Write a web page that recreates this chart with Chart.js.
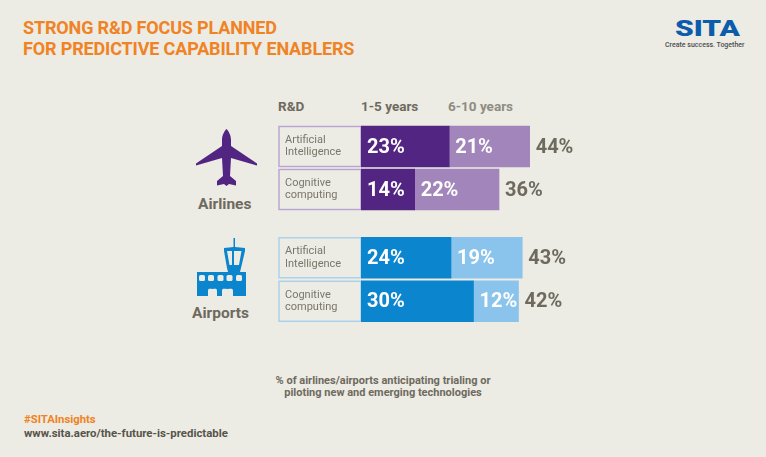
<!DOCTYPE html>
<html>
<head>
<meta charset="utf-8">
<script src="https://cdn.jsdelivr.net/npm/chart.js@4"></script>
<style>
  html, body { margin: 0; padding: 0; background: #ecebe4; }
  body { width: 766px; height: 457px; position: relative; overflow: hidden; font-family: Roboto, sans-serif; }
  .t { position: absolute; white-space: nowrap; font-weight: 700; color: #6e6a5e; }
  canvas { position: absolute; }
  svg { position: absolute; left: 0; top: 0; }
</style>
</head>
<body>
<div class="t" style="left:23px;top:17px;font-size:18px;line-height:21px;color:#f08323;letter-spacing:-0.15px;">STRONG R&amp;D FOCUS PLANNED<br>FOR PREDICTIVE CAPABILITY ENABLERS</div>
<div class="t" style="left:278px;top:98px;font-size:13.5px;">R&amp;D</div>
<div class="t" style="left:361px;top:98px;font-size:13.5px;">1-5 years</div>
<div class="t" style="left:448px;top:98px;font-size:13.5px;color:#8f8c81;">6-10 years</div>
<div class="t" style="left:198px;top:195px;font-size:15.5px;">Airlines</div>
<div class="t" style="left:192px;top:304px;font-size:15.5px;">Airports</div>
<div class="t" style="left:233px;width:300px;top:375px;font-size:11px;line-height:12px;text-align:center;white-space:normal;">% of airlines/airports anticipating trialing or<br>piloting new and emerging technologies</div>
<div class="t" style="left:24px;top:413px;font-size:11.3px;color:#f08323;">#SITAInsights</div>
<div class="t" style="left:24px;top:426px;font-size:11.4px;color:#57544a;">www.sita.aero/the-future-is-predictable</div>
<div class="t" style="left:675px;top:16px;font-size:22px;font-weight:900;color:#0b5cab;transform:scaleX(1.36);transform-origin:left top;">SITA</div>
<div class="t" style="left:665px;top:41px;font-size:7px;font-weight:500;color:#4d4d4d;">Create success. Together</div>

<svg width="766" height="457">
  <path fill="#522583" d="M226.5 129 C228.5 131 231 135 231 140 L231 146 L257 163.5 L257 165.5 L231 158 L230 176 L236 181 L236 185.5 L229 184 L226.5 186 L224 184 L217 185.5 L217 181 L223 176 L222 158 L196 165.5 L196 163.5 L222 146 L222 140 C222 135 224.5 131 226.5 129 Z"/>
  <path fill="#0a85ce" fill-rule="evenodd" d="M233.5 238 L235 238 L235 247 L245 248 L245 251 L241 268 L240 272 L246 272 L246 296 L233 296 L233 291 C233 288 231 289 227.5 289 C224 289 222 288 222 291 L222 296 L217 296 L217 291 C217 288 215 289 212.5 289 C210 289 208 288 208 291 L208 296 L197 296 L197 272 L228 272 L227 268 L224 251 L224 248 L233.5 247 Z M227 251 L229.5 265 L232 265 L232 251 Z M234 251 L234 265 L239 265 L241.5 251 Z"/>
  <g fill="#ecebe4">
    <rect x="199" y="275" width="6" height="6" rx="1.5"/>
    <rect x="208" y="275" width="6" height="6" rx="1.5"/>
    <rect x="217.5" y="275" width="6" height="6" rx="1.5"/>
    <rect x="226.5" y="275" width="6" height="6" rx="1.5"/>
    <rect x="236" y="275" width="6" height="6" rx="1.5"/>
  </g>
</svg>

<canvas id="airlines" width="313" height="86" style="left:278px;top:125px;"></canvas>
<canvas id="airports" width="308" height="87" style="left:278px;top:235.5px;"></canvas>

<script>
const categories = [["Artificial", "Intelligence"], ["Cognitive", "computing"]];

const airlinesNear = [23, 14];
const airlinesFar = [21, 22];
const airlinesTotal = [44, 36];

const airportsNear = [24, 30];
const airportsFar = [19, 12];
const airportsTotal = [43, 42];

const axisMax = 60;

// label box behind the category text, and the % numbers on the bars
const rowDecor = {
  id: "rowDecor",
  beforeDatasetsDraw(chart, args, opts) {
    const c = chart.ctx;
    const bar = chart.getDatasetMeta(0).data;
    c.save();
    c.strokeStyle = opts.boxColor;
    c.lineWidth = 1.4;
    bar.forEach((b) => {
      c.strokeRect(1, b.y - b.height / 2 + 0.5, b.base - 1, b.height - 1);
    });
    c.restore();
  },
  afterDatasetsDraw(chart, args, opts) {
    const c = chart.ctx;
    c.save();
    c.textBaseline = "middle";
    c.textAlign = "left";
    chart.data.datasets.forEach((ds, d) => {
      chart.getDatasetMeta(d).data.forEach((b, i) => {
        c.font = "700 20px Roboto";
        c.fillStyle = "#ffffff";
        c.fillText(ds.data[i] + "%", b.base + 6, b.y + 1);
        if (d === 1) {
          c.fillStyle = "#6e6a5e";
          c.fillText(opts.totals[i] + "%", b.x + 6, b.y + 1);
        }
      });
    });
    c.restore();
  },
};

function drawRows(id, near, far, totals, nearColor, farColor, boxColor) {
  new Chart(document.getElementById(id), {
    type: "bar",
    data: {
      labels: categories,
      datasets: [
        { label: "1-5 years", data: near, backgroundColor: nearColor, barThickness: 41 },
        { label: "6-10 years", data: far, backgroundColor: farColor, barThickness: 41 },
      ],
    },
    options: {
      indexAxis: "y",
      responsive: false,
      animation: false,
      layout: { padding: { left: 7, top: 0, bottom: 0, right: 0 } },
      plugins: {
        legend: { display: false },
        tooltip: { enabled: false },
        rowDecor: { totals: totals, boxColor: boxColor },
      },
      scales: {
        x: { stacked: true, display: false, min: 0, max: axisMax },
        y: {
          stacked: true,
          grid: { display: false },
          border: { display: false },
          afterFit(scale) {
            scale.width = 76;
            scale.paddingTop = 0;
            scale.paddingBottom = 0;
          },
          ticks: {
            crossAlign: "far",
            padding: 0,
            color: "#7a766a",
            font: { family: "Roboto", size: 11, lineHeight: 1.1 },
          },
        },
      },
    },
    plugins: [rowDecor],
  });
}

drawRows("airlines", airlinesNear, airlinesFar, airlinesTotal, "#522583", "#a285ba", "#b9a3d3");
drawRows("airports", airportsNear, airportsFar, airportsTotal, "#0a85ce", "#8ac4ec", "#a9d0ee");
</script>
</body>
</html>
